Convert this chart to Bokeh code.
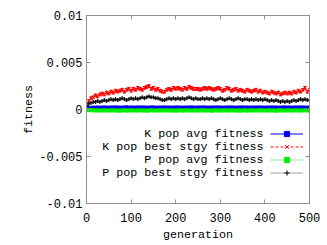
from bokeh.plotting import figure
from bokeh.models import (ColumnDataSource, Whisker, TeeHead, Legend, LegendItem, Label,
                          FixedTicker, LinearAxis, Range1d, CustomJSTickFormatter)
from bokeh.embed import file_html
from bokeh.resources import INLINE

# ---------------- data ----------------
generation = list(range(0, 501, 5))

k_pop_avg = [
    0.00012, 0.00016, 0.00018, 0.00019, 0.0002, 0.00021, 0.00019, 0.0002, 0.00022, 0.0002,
    0.00019, 0.00021, 0.0002, 0.00022, 0.00021, 0.00019, 0.0002, 0.00021, 0.00023, 0.0002,
    0.00021, 0.0002, 0.00019, 0.00021, 0.00022, 0.0002, 0.00021, 0.00019, 0.0002, 0.00022,
    0.00021, 0.0002, 0.00019, 0.00021, 0.0002, 0.00022, 0.0002, 0.00021, 0.00019, 0.0002,
    0.00021, 0.00022, 0.0002, 0.00019, 0.00021, 0.0002, 0.00021, 0.00022, 0.0002, 0.00019,
    0.00021, 0.0002, 0.00022, 0.00021, 0.0002, 0.00019, 0.00021, 0.0002, 0.00021, 0.00022,
    0.0002, 0.00019, 0.00021, 0.0002, 0.00022, 0.00021, 0.0002, 0.00019, 0.0002, 0.00021,
    0.00022, 0.0002, 0.00021, 0.00019, 0.0002, 0.00021, 0.0002, 0.00022, 0.00021, 0.0002,
    0.00019, 0.00021, 0.0002, 0.00022, 0.0002, 0.00021, 0.00019, 0.0002, 0.00021, 0.00022,
    0.0002, 0.00021, 0.00019, 0.0002, 0.00021, 0.0002, 0.00022, 0.00021, 0.0002, 0.00019,
    0.00021]

k_pop_best = [
    0.0006, 0.0009, 0.0012, 0.0013, 0.0015, 0.0014, 0.0016, 0.0017, 0.0016, 0.0018,
    0.0017, 0.0019, 0.0018, 0.0020, 0.0019, 0.0020, 0.0021, 0.0019, 0.0021, 0.0022,
    0.0020, 0.0022, 0.0021, 0.0023, 0.0022, 0.0021, 0.0023, 0.0024, 0.0025, 0.0022,
    0.0023, 0.0021, 0.0022, 0.0020, 0.0019, 0.0019, 0.0021, 0.0022, 0.0021, 0.0023,
    0.0022, 0.0023, 0.0022, 0.0021, 0.0023, 0.0022, 0.0024, 0.0023, 0.0022, 0.0022,
    0.0022, 0.0021, 0.0022, 0.0023, 0.0022, 0.0023, 0.0022, 0.0021, 0.0022, 0.0023,
    0.0022, 0.0020, 0.0021, 0.0023, 0.0022, 0.0020, 0.0021, 0.0022, 0.0020, 0.0021,
    0.0020, 0.0019, 0.0021, 0.0020, 0.0019, 0.0020, 0.0021, 0.0019, 0.0020, 0.0018,
    0.0019, 0.0018, 0.0017, 0.0019, 0.0018, 0.0017, 0.0018, 0.0016, 0.0017, 0.0018,
    0.0017, 0.0018, 0.0017, 0.0019, 0.0018, 0.0020, 0.0019, 0.0021, 0.0023, 0.0019,
    0.0021]

p_pop_avg = [
    -0.00003, -0.00006, -0.00008, -0.00009, -0.0001, -0.00009, -0.00011, -0.0001, -0.00009, -0.0001,
    -0.00011, -0.0001, -0.00009, -0.00011, -0.0001, -0.00012, -0.0001, -0.00009, -0.00011, -0.0001,
    -0.00009, -0.0001, -0.00011, -0.0001, -0.00009, -0.00011, -0.0001, -0.00012, -0.0001, -0.00009,
    -0.0001, -0.00011, -0.0001, -0.00009, -0.00011, -0.0001, -0.00009, -0.0001, -0.00011, -0.0001,
    -0.00012, -0.0001, -0.00009, -0.00011, -0.0001, -0.00009, -0.0001, -0.00011, -0.0001, -0.00009,
    -0.00011, -0.0001, -0.00009, -0.0001, -0.00011, -0.0001, -0.00012, -0.0001, -0.00009, -0.0001,
    -0.00011, -0.0001, -0.00009, -0.00011, -0.0001, -0.00009, -0.0001, -0.00011, -0.0001, -0.00012,
    -0.0001, -0.00009, -0.00011, -0.0001, -0.00009, -0.0001, -0.00011, -0.0001, -0.00009, -0.0001,
    -0.00011, -0.0001, -0.00009, -0.00011, -0.0001, -0.00012, -0.0001, -0.00009, -0.0001, -0.00011,
    -0.0001, -0.00009, -0.00011, -0.0001, -0.00009, -0.0001, -0.00011, -0.0001, -0.00009, -0.0001,
    -0.0001]

p_pop_best = [
    0.0004, 0.0006, 0.0007, 0.0008, 0.0008, 0.0009, 0.0008, 0.0009, 0.0010, 0.0009,
    0.0010, 0.0011, 0.0010, 0.0011, 0.0010, 0.0011, 0.0012, 0.0011, 0.0010, 0.0011,
    0.0012, 0.0011, 0.0012, 0.0011, 0.0012, 0.0013, 0.0012, 0.0013, 0.0014, 0.0013,
    0.0013, 0.0012, 0.0012, 0.0011, 0.0010, 0.0010, 0.0011, 0.0012, 0.0011, 0.0012,
    0.0011, 0.0012, 0.0011, 0.0012, 0.0011, 0.0012, 0.0013, 0.0012, 0.0011, 0.0012,
    0.0011, 0.0011, 0.0012, 0.0011, 0.0012, 0.0011, 0.0012, 0.0011, 0.0010, 0.0011,
    0.0012, 0.0011, 0.0010, 0.0011, 0.0012, 0.0011, 0.0010, 0.0011, 0.0012, 0.0011,
    0.0010, 0.0011, 0.0011, 0.0010, 0.0011, 0.0010, 0.0011, 0.0010, 0.0011, 0.0010,
    0.0011, 0.0010, 0.0009, 0.0010, 0.0009, 0.0010, 0.0009, 0.0008, 0.0009, 0.0008,
    0.0009, 0.0008, 0.0009, 0.0010, 0.0009, 0.0010, 0.0011, 0.0010, 0.0011, 0.0010,
    0.0010]

series_names = ["K pop avg fitness", "K pop best stgy fitness",
                "P pop avg fitness", "P pop best stgy fitness"]
series_values = [k_pop_avg, k_pop_best, p_pop_avg, p_pop_best]
series_errors = [0.00004, 0.00015, 0.00004, 0.0001]

x_ticks = [0, 100, 200, 300, 400, 500]
x_tick_labels = ["0", "100", "200", "300", "400", "500"]
y_ticks = [-0.01, -0.005, 0, 0.005, 0.01]
y_tick_labels = ["-0.01", "-0.005", "0", "0.005", "0.01"]

# ---------------- styles ----------------
FONT = "Liberation Mono"
line_colors = ["#0000ff", "#ff0000", "#00ee00", "#a0a0a0"]
marker_colors = ["#0000ff", "#ff0000", "#00ee00", "#000000"]
markers = ["square", "x", "square", "cross"]
marker_sizes = [3, 4, 3, 4]
dashes = ["solid", "3 2", "1 1", "solid"]

p = figure(width=327, height=245, output_backend="svg", toolbar_location=None,
           x_range=Range1d(0, 500), y_range=Range1d(-0.01, 0.01),
           min_border_left=86, min_border_right=18, min_border_top=15, min_border_bottom=42,
           x_axis_label="generation", y_axis_label="fitness")
p.grid.visible = False
p.outline_line_color = "#909090"
p.background_fill_color = "white"
p.border_fill_color = "white"


def fmt(vals, labels):
    return CustomJSTickFormatter(args=dict(tick_vals=vals, tick_text=labels), code="""
        for (let i = 0; i < tick_vals.length; i++) {
            if (Math.abs(tick_vals[i] - tick) < 1e-9) { return tick_text[i]; }
        }
        return "";
    """)


blank = CustomJSTickFormatter(code="return '';")

for ax in (p.xaxis[0], p.yaxis[0]):
    ax.axis_line_color = "#909090"
    ax.major_tick_line_color = "#909090"
    ax.major_tick_in = 4
    ax.major_tick_out = 0
    ax.minor_tick_line_color = None
    ax.major_label_text_font = FONT
    ax.major_label_text_font_size = "12px"
    ax.major_label_text_color = "black"
    ax.axis_label_text_font = FONT
    ax.axis_label_text_font_size = "11.7px"
    ax.axis_label_text_font_style = "normal"
    ax.axis_label_text_color = "black"

p.xaxis[0].ticker = FixedTicker(ticks=x_ticks)
p.xaxis[0].formatter = fmt(x_ticks, x_tick_labels)
p.xaxis[0].major_label_standoff = 9
p.xaxis[0].axis_label_standoff = 3
p.yaxis[0].ticker = FixedTicker(ticks=y_ticks)
p.yaxis[0].formatter = fmt(y_ticks, y_tick_labels)
p.yaxis[0].major_label_standoff = 4
p.yaxis[0].axis_label_standoff = 0

# mirrored ticks on top and right
top_ax = LinearAxis(ticker=FixedTicker(ticks=x_ticks), formatter=blank)
right_ax = LinearAxis(ticker=FixedTicker(ticks=y_ticks), formatter=blank)
for ax in (top_ax, right_ax):
    ax.axis_line_color = "#909090"
    ax.major_tick_line_color = "#909090"
    ax.major_tick_in = 4
    ax.major_tick_out = 0
    ax.minor_tick_line_color = None
    ax.major_label_standoff = 0
    ax.major_label_text_font_size = "1px"
p.add_layout(top_ax, "above")
p.add_layout(right_ax, "right")

legend_items = []
for name, vals, err, lc, mc, mk, ms, dash in zip(series_names, series_values, series_errors,
                                                  line_colors, marker_colors, markers,
                                                  marker_sizes, dashes):
    src = ColumnDataSource(dict(x=generation, y=vals,
                                upper=[v + err for v in vals],
                                lower=[v - err for v in vals]))
    r_line = p.line("x", "y", source=src, line_color=lc, line_width=1, line_dash=dash)
    w = Whisker(source=src, base="x", upper="upper", lower="lower",
                line_color=lc, line_width=1,
                upper_head=TeeHead(size=3, line_color=lc, line_width=1),
                lower_head=TeeHead(size=3, line_color=lc, line_width=1))
    p.add_layout(w)
    r_pt = p.scatter("x", "y", source=src, marker=mk, size=ms,
                     line_color=mc, fill_color=mc, line_width=1)
    legend_items.append(LegendItem(label=" ", renderers=[r_line, r_pt]))

# legend: glyph samples on the right, text right-aligned on their left (gnuplot style)
legend = Legend(items=legend_items, location=(184, 24), orientation="vertical",
                glyph_width=33, glyph_height=13, label_width=0, label_height=13,
                label_standoff=0, spacing=0, padding=0, margin=0,
                border_line_color=None, background_fill_alpha=0,
                label_text_font_size="1px")
p.add_layout(legend)

for i, name in enumerate(series_names):
    p.add_layout(Label(x=177, y=70 - 13 * i, x_units="screen", y_units="screen",
                       text=name, text_align="right", text_baseline="middle",
                       text_font=FONT, text_font_size="11.7px", text_color="black"))

open("out.html", "w").write(file_html(p, INLINE))
